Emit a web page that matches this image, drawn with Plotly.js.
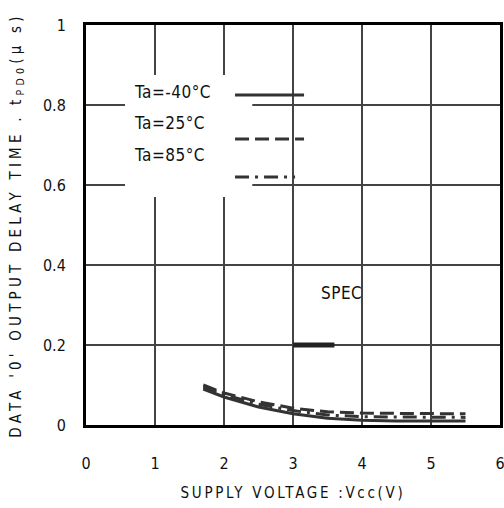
<!DOCTYPE html>
<html>
<head>
<meta charset="utf-8">
<script src="https://cdn.plot.ly/plotly-3.0.1.min.js"></script>
<style>
html,body{margin:0;padding:0;background:#fff;}
#chart{width:504px;height:508px;}
.ytitle{letter-spacing:4.2px;}
.xtitle{letter-spacing:2.7px;}
.annotation-text{letter-spacing:0.5px;}
</style>
</head>
<body>
<div id="chart"></div>
<script>
// Supply voltage Vcc (V)
const vcc = [1.7, 2.0, 2.5, 3.0, 3.5, 4.0, 4.5, 5.0, 5.5];
// Data '0' output delay time tPD0 (µs)
const tpdM40 = [0.090, 0.070, 0.045, 0.028, 0.017, 0.012, 0.010, 0.010, 0.010];
const tpd25  = [0.100, 0.080, 0.058, 0.042, 0.033, 0.030, 0.029, 0.028, 0.028];
const tpd85  = [0.095, 0.076, 0.052, 0.036, 0.025, 0.021, 0.020, 0.020, 0.019];
const seriesNames = ['Ta=-40°C', 'Ta=25°C', 'Ta=85°C'];
const seriesDash = ['solid', '14px,6px', '14px,6px,3px,6px'];
// SPEC limit
const specVcc = [3.0, 3.6];
const specVal = [0.2, 0.2];
const specLabel = 'SPEC';
// Axis ticks
const xTicks = [0, 1, 2, 3, 4, 5, 6];
const yTicks = [0, 0.2, 0.4, 0.6, 0.8, 1];
const yTickText = ['0', '0.2', '0.4', '0.6', '0.8', '1'];

const series = [tpdM40, tpd25, tpd85];
const lineColor = '#333';

const traces = series.map((ys, i) => ({
  x: vcc, y: ys, type: 'scatter', mode: 'lines', name: seriesNames[i],
  line: {color: lineColor, width: 3, dash: seriesDash[i]}, hoverinfo: 'skip'
}));
traces.push({
  x: specVcc, y: specVal, type: 'scatter', mode: 'lines', name: specLabel,
  line: {color: '#222', width: 5}, hoverinfo: 'skip'
});

// legend block (drawn to the right of labels, as in the reference)
const legRowY = [0.825, 0.715, 0.62];
const legTextY = [0.832, 0.755, 0.675];
const shapes = [{
  type: 'rect', xref: 'x', yref: 'y', x0: 0.565, x1: 2.41, y0: 0.57, y1: 0.875,
  fillcolor: '#fff', line: {width: 0}, layer: 'between'
}];
seriesNames.forEach((n, i) => {
  shapes.push({
    type: 'line', xref: 'x', yref: 'y', x0: 2.16, x1: i === 2 ? 3.03 : 3.16,
    y0: legRowY[i], y1: legRowY[i],
    line: {color: lineColor, width: 3, dash: seriesDash[i]}, layer: 'above'
  });
});
const annFont = {family: 'DejaVu Sans Condensed, Liberation Sans, sans-serif', size: 17, color: '#111'};
const annotations = seriesNames.map((n, i) => ({
  text: n, xref: 'x', yref: 'y', x: 0.66, y: legTextY[i], xanchor: 'left', yanchor: 'middle',
  showarrow: false, font: annFont
}));
annotations.push({
  text: specLabel, xref: 'x', yref: 'y', x: 3.7, y: 0.33, xanchor: 'center', yanchor: 'middle',
  showarrow: false, font: annFont
});

const tickFont = {family: 'DejaVu Sans Condensed, Liberation Sans, sans-serif', size: 16, color: '#111'};
const titleFont = {family: 'DejaVu Sans Condensed, Liberation Sans, sans-serif', size: 15, color: '#111'};

const layout = {
  width: 504, height: 508,
  margin: {l: 86, r: 4, t: 25, b: 83},
  paper_bgcolor: '#fff', plot_bgcolor: '#fff',
  showlegend: false,
  xaxis: {
    range: [0, 6], tickvals: xTicks, ticks: '', ticklabelstandoff: 22,
    ticklabeloverflow: 'allow',
    showgrid: true, gridcolor: '#444', gridwidth: 2,
    zeroline: false, showline: true, linecolor: '#000', linewidth: 3, mirror: true,
    tickfont: tickFont,
    title: {text: 'SUPPLY VOLTAGE :Vcc(V)', font: titleFont, standoff: 16}
  },
  yaxis: {
    range: [0, 1], tickvals: yTicks, ticktext: yTickText, ticks: '', ticklabelstandoff: 14,
    showgrid: true, gridcolor: '#444', gridwidth: 2,
    zeroline: false, showline: true, linecolor: '#000', linewidth: 3, mirror: true,
    tickfont: tickFont,
    title: {text: "DATA '0' OUTPUT DELAY TIME . t<sub>PD0</sub>(μ s)", font: titleFont, standoff: 18}
  },
  shapes: shapes,
  annotations: annotations
};

Plotly.newPlot('chart', traces, layout, {staticPlot: true, displayModeBar: false});
</script>
</body>
</html>
